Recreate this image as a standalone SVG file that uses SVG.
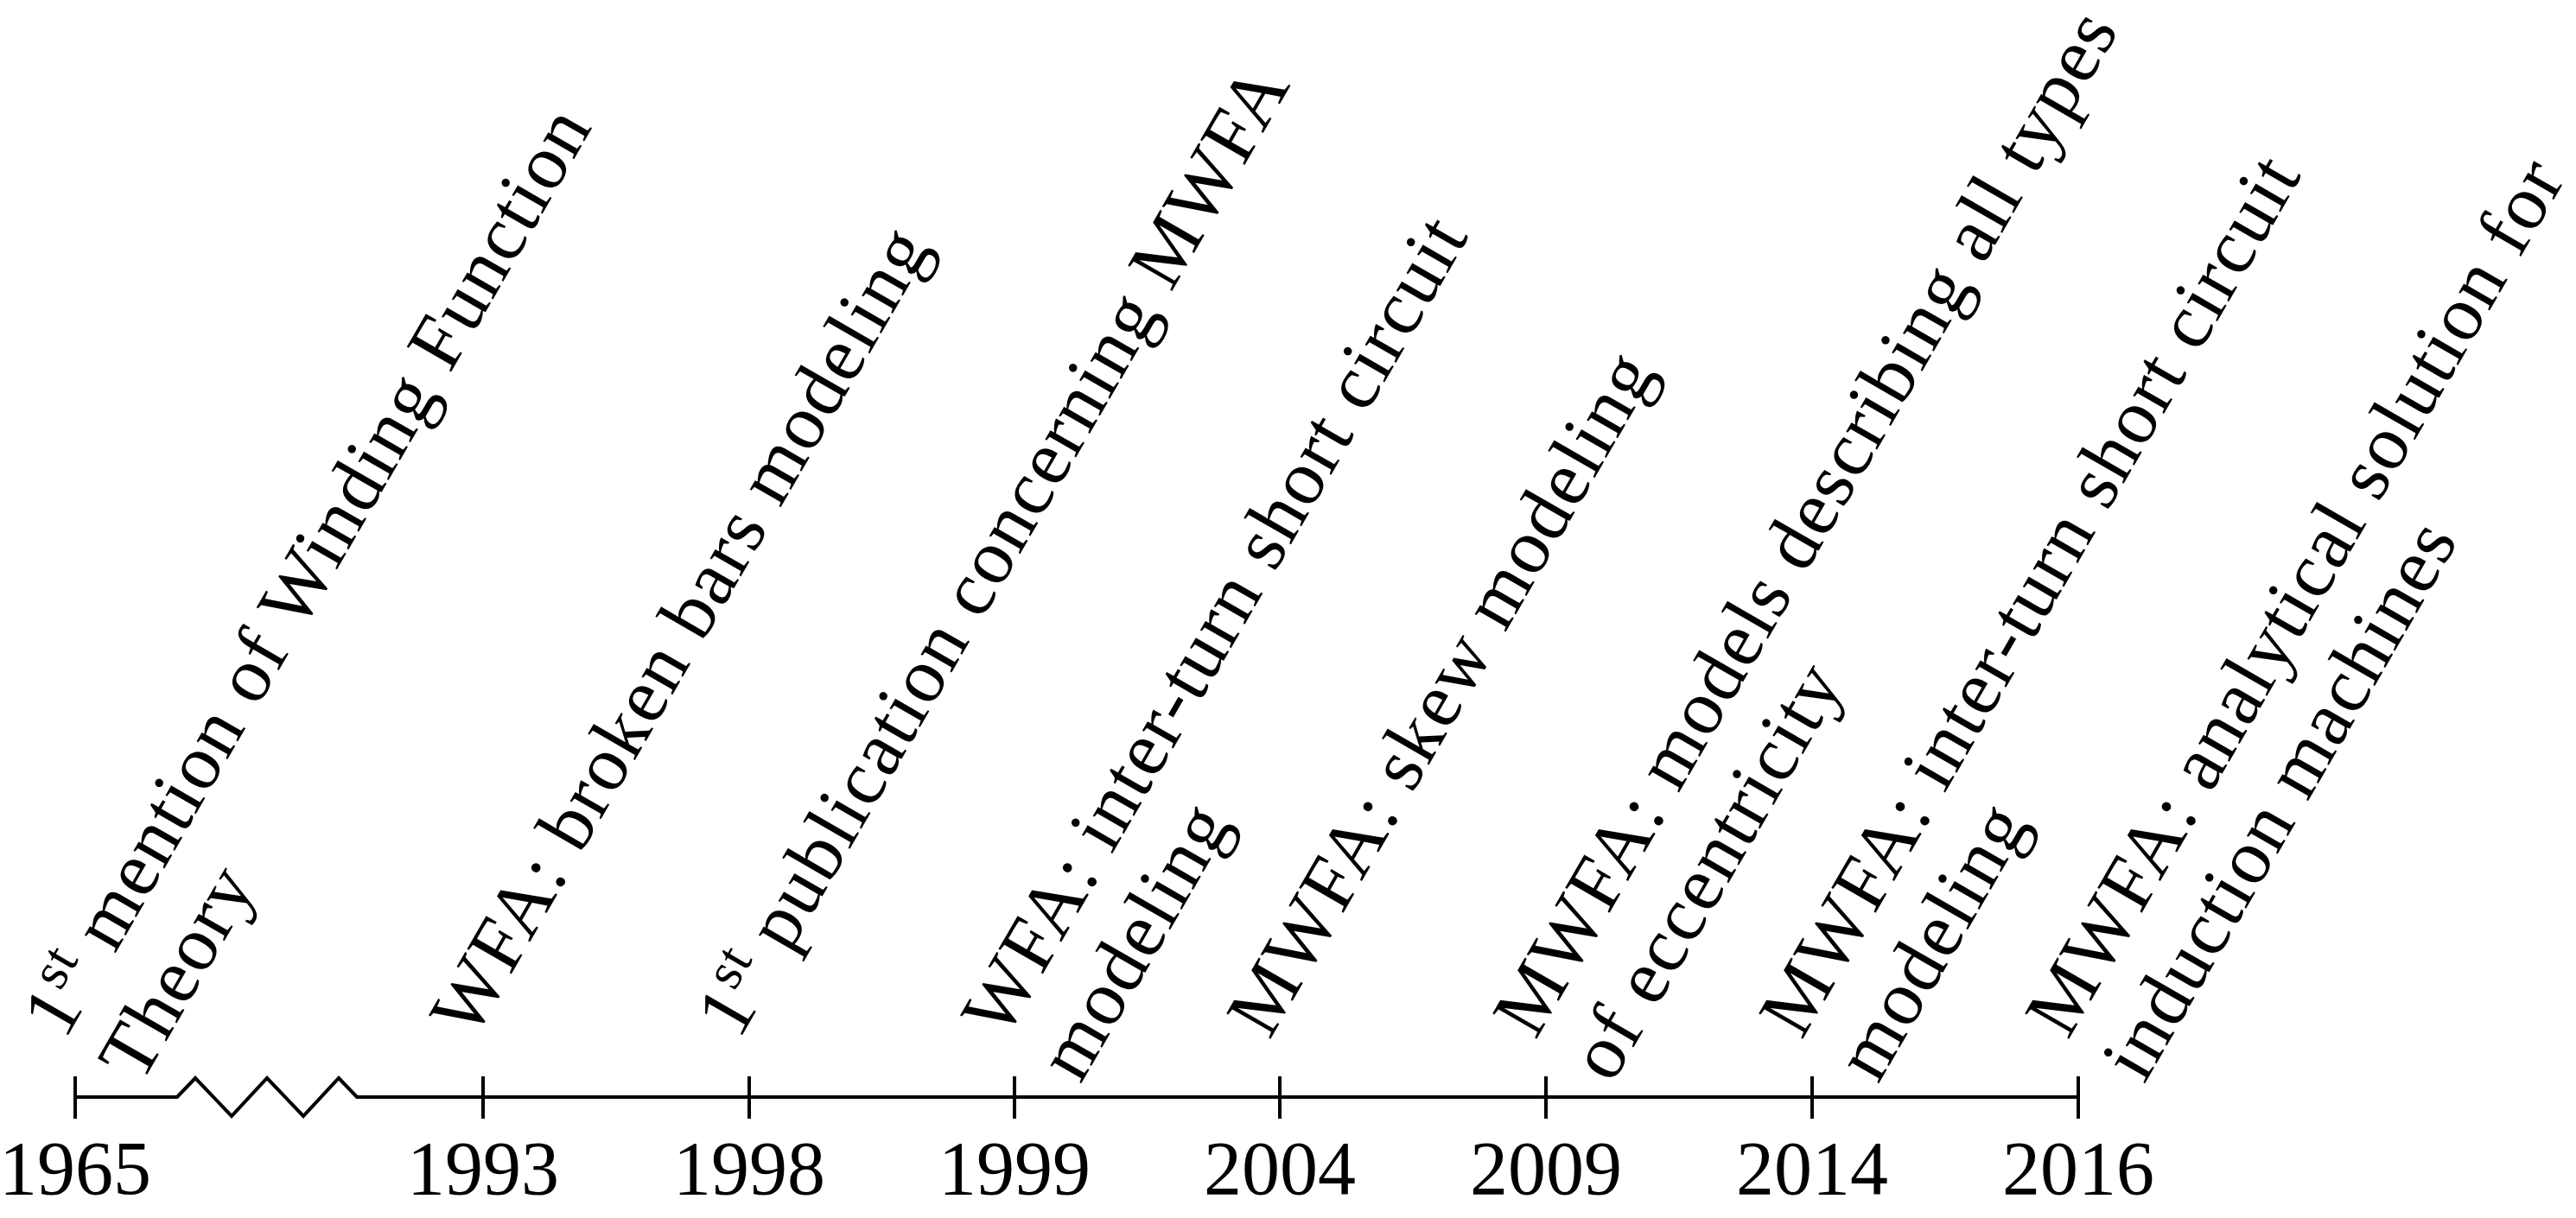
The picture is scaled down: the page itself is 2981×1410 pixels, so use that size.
<svg xmlns="http://www.w3.org/2000/svg" width="2981" height="1410" viewBox="0 0 2981 1410">
<style>
.bg{fill:#fff}
.ax{stroke:#000;stroke-width:4;fill:none;stroke-linejoin:miter}
.tk{stroke:#000;stroke-width:4;fill:none}
.lbl{font-family:"Liberation Serif","Times New Roman",serif;font-size:90px;letter-spacing:1.5px;fill:#000}
.sup{font-size:63px}
.yr{font-family:"Liberation Serif","Times New Roman",serif;font-size:88px;text-anchor:middle;fill:#000}
</style>
<rect class="bg" x="0" y="0" width="2981" height="1410"/>
<g id="axis">
<path class="ax" d="M87,1270 H205 L226,1248 L268,1292 L309,1248 L351,1292 L392,1248 L413,1270 H2405"/>
<path class="tk" d="M87,1246 V1295 M559,1246 V1295 M867,1246 V1295 M1174,1246 V1295 M1481,1246 V1295 M1789,1246 V1295 M2097,1246 V1295 M2405,1246 V1295"/>
</g>
<g id="years">
<text class="yr" x="87" y="1382">1965</text>
<text class="yr" x="559" y="1382">1993</text>
<text class="yr" x="867" y="1382">1998</text>
<text class="yr" x="1174" y="1382">1999</text>
<text class="yr" x="1481" y="1382">2004</text>
<text class="yr" x="1789" y="1382">2009</text>
<text class="yr" x="2097" y="1382">2014</text>
<text class="yr" x="2405" y="1382">2016</text>
</g>
<g id="event-1965">
<text class="lbl" transform="translate(75,1205) rotate(-60)">1<tspan class="sup" dy="-33">st</tspan><tspan dy="33"> mention of Winding Function</tspan><tspan x="0" dy="102">Theory</tspan></text>
</g>
<g id="event-1993">
<text class="lbl" transform="translate(547,1205) rotate(-60)">WFA: broken bars modeling</text>
</g>
<g id="event-1998">
<text class="lbl" transform="translate(855,1205) rotate(-60)">1<tspan class="sup" dy="-33">st</tspan><tspan dy="33"> publication concerning MWFA</tspan></text>
</g>
<g id="event-1999">
<text class="lbl" transform="translate(1162,1205) rotate(-60)">WFA: inter-turn short circuit<tspan x="0" dy="102">modeling</tspan></text>
</g>
<g id="event-2004">
<text class="lbl" transform="translate(1469,1205) rotate(-60)">MWFA: skew modeling</text>
</g>
<g id="event-2009">
<text class="lbl" transform="translate(1777,1205) rotate(-60)">MWFA: models describing all types<tspan x="0" dy="102">of eccentricity</tspan></text>
</g>
<g id="event-2014">
<text class="lbl" transform="translate(2085,1205) rotate(-60)">MWFA: inter-turn short circuit<tspan x="0" dy="102">modeling</tspan></text>
</g>
<g id="event-2016">
<text class="lbl" transform="translate(2393,1205) rotate(-60)">MWFA: analytical solution for<tspan x="0" dy="102">induction machines</tspan></text>
</g>
</svg>
